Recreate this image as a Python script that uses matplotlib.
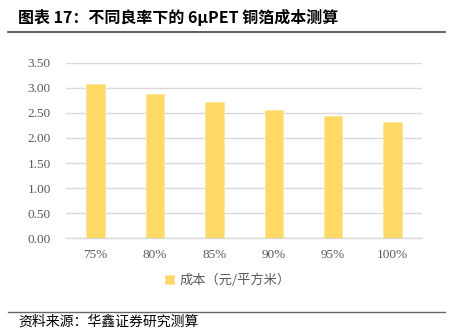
import matplotlib.pyplot as plt
from matplotlib.lines import Line2D

plt.rcParams['font.family'] = ['Noto Sans CJK SC', 'DejaVu Sans']

yields = ['75%', '80%', '85%', '90%', '95%', '100%']
cost = [3.08, 2.88, 2.72, 2.56, 2.43, 2.31]
yticks = [0.0, 0.5, 1.0, 1.5, 2.0, 2.5, 3.0, 3.5]

title = '图表 17：不同良率下的 6μPET 铜箔成本测算'
series_name = '成本（元/平方米）'
source = '资料来源：华鑫证券研究测算'

fig = plt.figure(figsize=(4.52, 3.3), dpi=100)
ax = fig.add_axes([0.146, 0.278, 0.788, 0.532])

x = range(len(yields))
ax.bar(x, cost, width=0.31, color='#FFD966', edgecolor='#FFE699', linewidth=0.6,
       label=series_name, zorder=3)

ax.set_xlim(-0.5, len(yields) - 0.5)
ax.set_ylim(0, 3.5)
ax.set_yticks(yticks)
ax.set_yticklabels(['%.2f' % v for v in yticks], family='Liberation Serif',
                   fontsize=9.5, color='#595959')
ax.set_xticks(list(x))
ax.set_xticklabels(yields, family='Liberation Serif', fontsize=9.5, color='#595959')
ax.tick_params(length=0, pad=8)
ax.tick_params(axis='y', pad=11)
ax.grid(axis='y', color='#D9D9D9', linewidth=1.0, zorder=0)
for side in ['top', 'right', 'left']:
    ax.spines[side].set_visible(False)
ax.spines['bottom'].set_color('#D9D9D9')
ax.spines['bottom'].set_linewidth(1.0)

ax.legend(loc='upper center', bbox_to_anchor=(0.455, -0.135), frameon=False,
          fontsize=9.5, handlelength=0.7, handleheight=0.7, handletextpad=0.4,
          labelcolor='#595959')

fig.text(0.04, 0.948, title, fontsize=11.5, fontweight='bold', va='center', ha='left')
fig.add_artist(Line2D([0.018, 0.985], [0.903, 0.903], color='#444444', linewidth=1.2))
fig.add_artist(Line2D([0.018, 0.985], [0.055, 0.055], color='#666666', linewidth=1.0))
fig.text(0.04, 0.024, source, fontsize=10, va='center', ha='left')

fig.savefig('out.png', dpi=100)
